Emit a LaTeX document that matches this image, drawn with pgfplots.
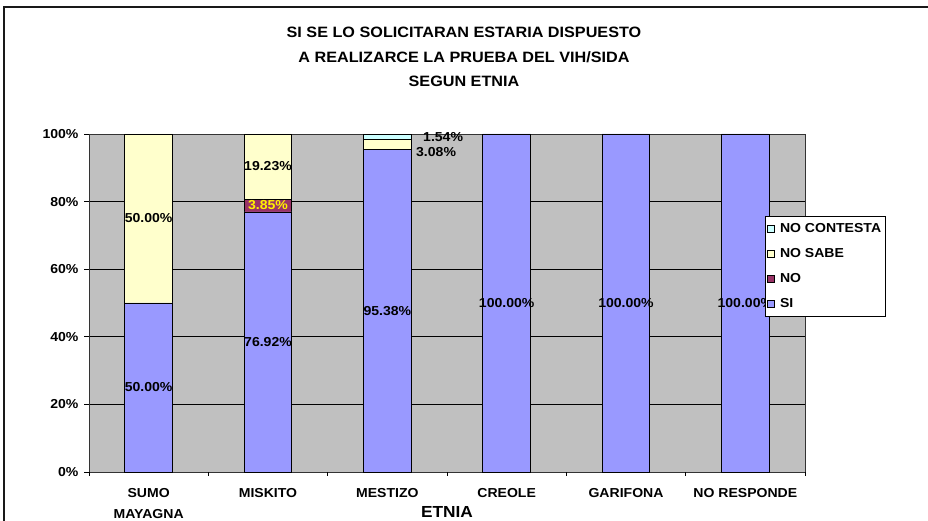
\documentclass[border=0pt]{standalone}
\usepackage{pgfplots}
\pgfplotsset{compat=1.18}
\usepackage{fontspec}
\setmainfont{Liberation Sans}[FakeStretch=1.08]
\definecolor{siC}{HTML}{9999FF}
\definecolor{noC}{HTML}{993366}
\definecolor{nsC}{HTML}{FFFFCC}
\definecolor{ncC}{HTML}{CCFFFF}
\definecolor{plotbg}{HTML}{C0C0C0}
\newcommand{\lblfont}{\fontsize{13bp}{15bp}\selectfont\bfseries}
\pgfplotsset{geom/.style={
  at={(89bp,49bp)}, anchor=south west,
  scale only axis, width=716bp, height=338bp,
  xmin=-0.5, xmax=5.5, ymin=0, ymax=100, clip=false}}
\begin{document}
\begin{tikzpicture}[x=1bp,y=1bp]
\useasboundingbox (0,0) rectangle (928,521);
\draw[line width=2bp, black!90] (4,-5) -- (4,514) -- (935,514);
\node[font=\fontsize{15bp}{24.5bp}\selectfont\bfseries, align=center] at (464,464)
  {SI SE LO SOLICITARAN ESTARIA DISPUESTO\\A REALIZARCE LA PRUEBA DEL VIH/SIDA\\SEGUN ETNIA};
\begin{axis}[
  geom,
  ybar stacked, bar width=0.4,
  axis background/.style={fill=plotbg},
  axis line style={black!80, line width=0.8bp},
  ytick={0,20,40,60,80,100},
  yticklabels={0\%,20\%,40\%,60\%,80\%,100\%},
  ymajorgrids, grid style={black, line width=0.8bp},
  tick pos=left,
  tick align=outside, major tick length=5bp,
  tick style={black, line width=0.8bp},
  xtick={0,1,2,3,4,5},
  xticklabels={{SUMO\\MAYAGNA},MISKITO,MESTIZO,CREOLE,GARIFONA,NO RESPONDE},
  major x tick style={draw=none},
  extra x ticks={-0.5,0.5,1.5,2.5,3.5,4.5,5.5},
  extra x tick labels={},
  extra x tick style={grid=none, major tick length=4bp, major x tick style={draw=black}},
  tick label style={font=\lblfont},
  y tick label style={xshift=-2bp},
  x tick label style={align=center, font=\fontsize{13bp}{20.5bp}\selectfont\bfseries, yshift=-8bp},
  xlabel={ETNIA},
  xlabel style={font=\fontsize{16bp}{18bp}\selectfont\bfseries, at={(axis description cs:0.5,-0.118)}, anchor=center},
]
\addplot[fill=siC, draw=black, line width=0.8bp] coordinates {(0,50) (1,76.92) (2,95.38) (3,100) (4,100) (5,100)};
\addplot[fill=noC, draw=black, line width=0.8bp] coordinates {(0,0) (1,3.85) (2,0) (3,0) (4,0) (5,0)};
\addplot[fill=nsC, draw=black, line width=0.8bp] coordinates {(0,50) (1,19.23) (2,3.08) (3,0) (4,0) (5,0)};
\addplot[fill=ncC, draw=black, line width=0.8bp] coordinates {(0,0) (1,0) (2,1.54) (3,0) (4,0) (5,0)};
\end{axis}
\begin{axis}[
  geom, hide axis,
  legend style={at={(0.944,0.757)}, anchor=north west, draw=black, fill=white,
    font=\lblfont, row sep=10.5bp, inner xsep=2bp, inner ysep=5bp, line width=0.8bp},
  legend cell align=left,
  reverse legend,
  legend image code/.code={\draw[#1, draw=black, line width=0.6bp] (2bp,-3.5bp) rectangle (9bp,3.5bp); \path (12bp,0bp);},
  nodes near coords={\pgfmathprintnumber[fixed, fixed zerofill, precision=2, assume math mode=true]{\pgfplotspointmeta}\%},
  every node near coord/.style={font=\lblfont, inner sep=0pt, anchor=center},
]
% label positions (segment centres) and the values they show
\addplot[draw=none, mark=none, forget plot, point meta=explicit] table[meta=v] {
x y v
0 25 50.00
0 75 50.00
1 38.46 76.92
1 90.38 19.23
2 47.69 95.38
3 50 100.00
4 50 100.00
5 50 100.00
};
\addplot[draw=none, mark=none, forget plot, point meta=explicit,
  every node near coord/.append style={text=yellow}] table[meta=v] {
x y v
1 78.85 3.85
};
\addplot[draw=none, mark=none, forget plot, point meta=explicit,
  every node near coord/.append style={anchor=west}] table[meta=v] {
x y v
2.299 99.1 1.54
2.240 94.67 3.08
};
\addlegendimage{fill=siC}
\addlegendentry{SI}
\addlegendimage{fill=noC}
\addlegendentry{NO}
\addlegendimage{fill=nsC}
\addlegendentry{NO SABE}
\addlegendimage{fill=ncC}
\addlegendentry{NO CONTESTA}
\end{axis}
\end{tikzpicture}
\end{document}
